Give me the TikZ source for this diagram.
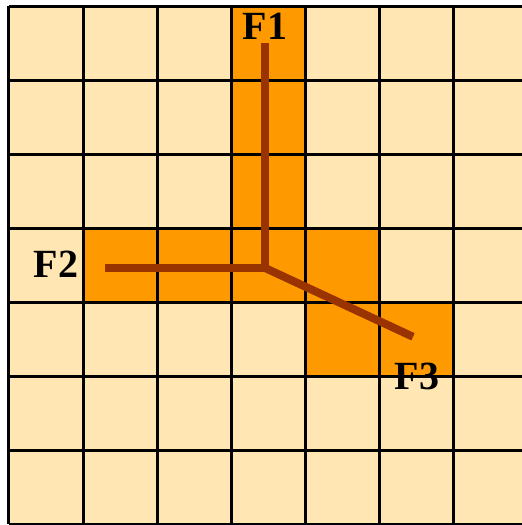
\documentclass[tikz,border=0pt]{standalone}
\usepackage{fontspec}
\setmainfont{Liberation Serif}
\usetikzlibrary{positioning}
\definecolor{cellfill}{RGB}{255,230,179}
\definecolor{hitfill}{RGB}{255,153,0}
\definecolor{fiber}{RGB}{153,51,0}

\begin{document}
\begin{tikzpicture}[x=74pt,y=-74pt,
  hit/.style={fill=hitfill},
  gridline/.style={black,line width=3pt},
  seg/.style={draw=fiber,line width=8pt},
  lbl/.style={font=\bfseries\fontsize{40}{40}\selectfont,inner sep=0pt}
]
\clip (-9pt,6pt) rectangle (513pt,-519pt);
\fill[white] (-9pt,6pt) rectangle (513pt,-519pt);
\fill[cellfill] (0,0) rectangle (7,7);
% hit cells
\foreach \c/\r in {3/0,3/1,3/2,1/3,2/3,3/3,4/3,4/4,5/4}
  \fill[hit] (\c,\r) rectangle ++(1,1);
% grid
\foreach \i in {0,...,7} {
  \draw[gridline] (\i,0) -- (\i,7);
  \draw[gridline] (0,\i) -- (7,\i);
}
% fibres
\coordinate (c)  at (3.46,3.54);
\coordinate (e1) at (3.46,0.50);
\coordinate (e2) at (1.30,3.54);
\coordinate (e3) at (5.46,4.47);
\draw[seg] (e1) -- (c) -- (e2);
\draw[seg] (c) -- (e3);
\node[lbl,above=3pt of e1] (f1) {F1};
\node[lbl,left=27pt of e2,yshift=4pt] (f2) {F2};
\node[lbl,below=26pt of e3,xshift=4pt] (f3) {F3};
\end{tikzpicture}
\end{document}
